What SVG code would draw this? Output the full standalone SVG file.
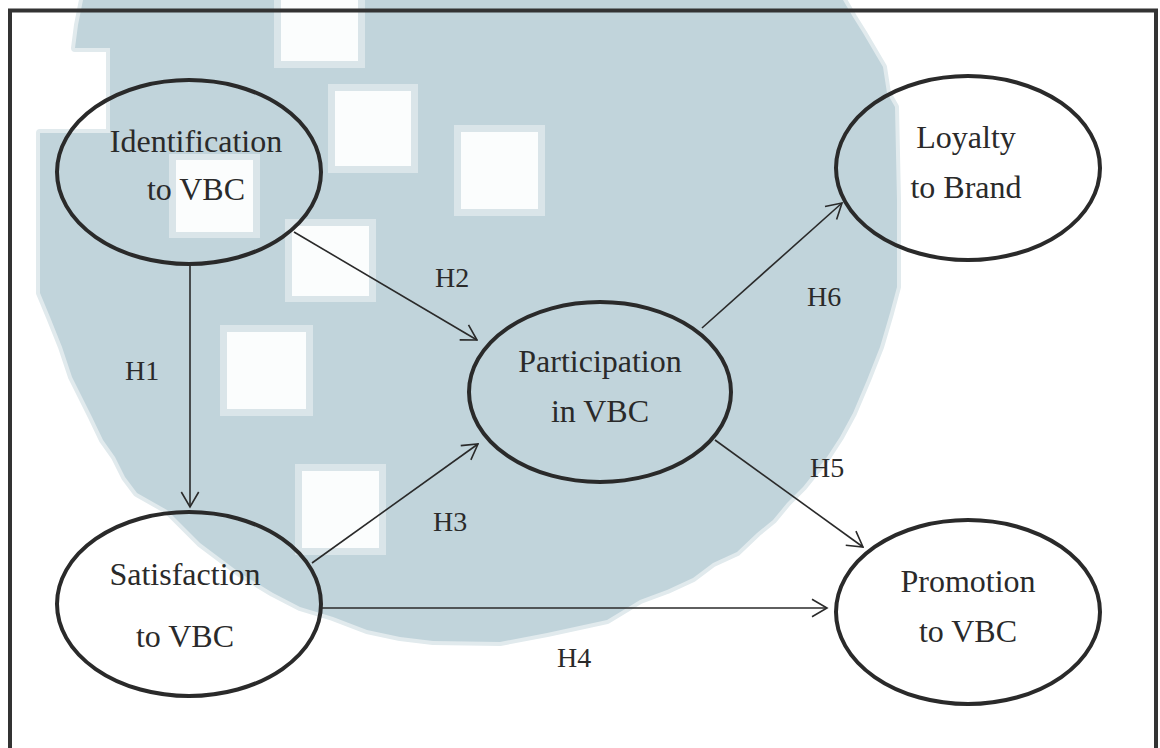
<svg xmlns="http://www.w3.org/2000/svg" width="1160" height="748" viewBox="0 0 1160 748">
<style>
.node ellipse{fill:none;stroke:#2a2a2a;stroke-width:4}
.node text{font-family:"Liberation Serif","Times New Roman",serif;font-size:32px;fill:#2a2a2a;text-anchor:middle}
.lbl{font-family:"Liberation Serif","Times New Roman",serif;font-size:28px;fill:#2a2a2a}
.edge{fill:none;stroke:#2a2a2a;stroke-width:1.6;marker-end:url(#ah)}
.sqo{fill:#dae5e9}
.sqi{fill:#fbfdfd}
</style>
<defs>
<marker id="ah" markerUnits="userSpaceOnUse" markerWidth="18" markerHeight="20" viewBox="0 0 18 20" refX="16.5" refY="10" orient="auto">
<path d="M1.5,1.3 L16.5,10 L1.5,18.7" fill="none" stroke="#2a2a2a" stroke-width="1.6"/>
</marker>
</defs>
<rect x="0" y="0" width="1160" height="748" fill="#ffffff"/>
<g id="watermark">
<path fill="#c1d4db" stroke="#e1eaed" stroke-width="8" stroke-linejoin="round" paint-order="stroke" d="M83,0 L843,0 L853,17 L863,33 L873,50 L883,67 L887,93 L895,107 L897,200 L897,287 L890,313 L880,347 L867,380 L853,413 L840,437 L827,457 L803,487 L787,503 L773,520 L757,533 L737,552 L713,563 L693,578 L667,590 L640,600 L607,620 L547,633 L500,642 L433,641 L400,637 L367,630 L333,617 L300,607 L273,593 L240,573 L200,543 L167,510 L137,493 L125,477 L115,457 L103,440 L92,417 L82,397 L72,377 L62,347 L50,317 L40,293 L40,133 L110,133 L110,48 L75,48 L78,25 Z"/>
<rect class="sqo" x="274" y="-20" width="91" height="88"/><rect class="sqi" x="281" y="-20" width="77" height="81"/>
<rect class="sqo" x="328" y="84" width="90" height="89"/><rect class="sqi" x="335" y="91" width="76" height="75"/>
<rect class="sqo" x="454" y="125" width="91" height="91"/><rect class="sqi" x="461" y="132" width="77" height="77"/>
<rect class="sqo" x="169" y="154" width="91" height="84"/><rect class="sqi" x="176" y="160" width="77" height="72"/>
<rect class="sqo" x="285" y="219" width="91" height="83"/><rect class="sqi" x="292" y="226" width="77" height="70"/>
<rect class="sqo" x="220" y="325" width="93" height="91"/><rect class="sqi" x="227" y="332" width="79" height="77"/>
<rect class="sqo" x="295" y="464" width="91" height="91"/><rect class="sqi" x="302" y="471" width="77" height="77"/>
</g>
<rect id="frame" x="10" y="10.5" width="1146" height="800" fill="none" stroke="#333333" stroke-width="4"/>
<g id="connectors">
<path class="edge" d="M190,266 L190,507"/>
<path class="edge" d="M294,232 L477,340"/>
<path class="edge" d="M312,563 L478,444"/>
<path class="edge" d="M322,608 L827,608"/>
<path class="edge" d="M715,440 L863,547"/>
<path class="edge" d="M702,328 L842,203"/>
<text class="lbl" x="125" y="380">H1</text>
<text class="lbl" x="435" y="287">H2</text>
<text class="lbl" x="433" y="531">H3</text>
<text class="lbl" x="557" y="667">H4</text>
<text class="lbl" x="810" y="477">H5</text>
<text class="lbl" x="807" y="306">H6</text>
</g>
<g id="identification" class="node">
<ellipse cx="189" cy="172" rx="132" ry="92"/>
<text x="196" y="152">Identification</text>
<text x="196" y="200">to VBC</text>
</g>
<g id="satisfaction" class="node">
<ellipse cx="189" cy="604" rx="132" ry="92"/>
<text x="185" y="585">Satisfaction</text>
<text x="185" y="647">to VBC</text>
</g>
<g id="participation" class="node">
<ellipse cx="600" cy="392" rx="131" ry="90"/>
<text x="600" y="372">Participation</text>
<text x="600" y="422">in VBC</text>
</g>
<g id="loyalty" class="node">
<ellipse cx="968" cy="168" rx="132" ry="92"/>
<text x="966" y="148">Loyalty</text>
<text x="966" y="198">to Brand</text>
</g>
<g id="promotion" class="node">
<ellipse cx="968" cy="612" rx="132" ry="92"/>
<text x="968" y="592">Promotion</text>
<text x="968" y="642">to VBC</text>
</g>
</svg>
